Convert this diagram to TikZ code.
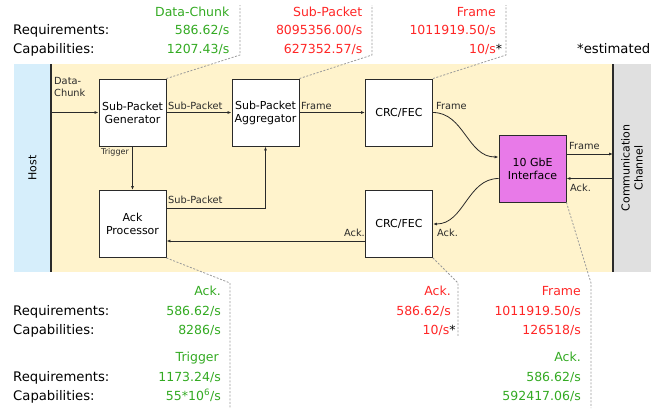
\documentclass[tikz,border=0pt]{standalone}
\usepackage{fontspec}
\setmainfont{DejaVu Sans}
\usetikzlibrary{arrows.meta}

\definecolor{rategreen}{HTML}{33AA22}
\definecolor{ratered}{HTML}{FF2626}
\definecolor{bgyellow}{HTML}{FFF3CC}
\definecolor{hostblue}{HTML}{D6EEFB}
\definecolor{chgray}{HTML}{E0E0E0}
\definecolor{gbeviolet}{HTML}{E87AE8}
\definecolor{linedark}{HTML}{2A2A2A}
\definecolor{calloutgray}{HTML}{9A9A9A}

\begin{document}
\begin{tikzpicture}[x=1pt,y=-1pt,
  block/.style={draw=linedark, line width=0.9pt, fill=white,
    minimum width=67pt, minimum height=67pt, inner sep=0pt,
    align=center, font=\fontsize{11}{13}\selectfont},
  flow/.style={draw=linedark, line width=0.8pt, -{Latex[length=4pt,width=3pt]}},
  elabel/.style={inner sep=0pt, font=\fontsize{9.8}{11.5}\selectfont, text=linedark},
  callout/.style={draw=calloutgray, line width=0.8pt, dash pattern=on 2pt off 1.6pt},
  rowname/.style={anchor=base west, inner sep=0pt, font=\fontsize{13.2}{15}\selectfont},
  rate/.style={anchor=base east, inner sep=0pt, font=\fontsize{12.5}{15}\selectfont},
  good/.style={rate, text=rategreen},
  bad/.style={rate, text=ratered}]

\useasboundingbox (0,0) rectangle (665,408);

% background regions
\fill[bgyellow] (14,64) rectangle (613,272);
\fill[hostblue] (14,64) rectangle (51,272);
\fill[chgray] (613,64) rectangle (651,272);
\draw[linedark, line width=1.3pt] (51,64) -- (51,272);
\draw[linedark, line width=1.3pt] (613,64) -- (613,272);
\node[rotate=90, font=\fontsize{11}{13}\selectfont] (host) at (32.5,168) {Host};
\node[rotate=90, align=center, font=\fontsize{11}{13}\selectfont] (chan) at (632,168) {Communication\\Channel};

% processing blocks
\node[block] (gen)  at (132.5,112.5) {Sub-Packet\\Generator};
\node[block] (agg)  at (265.5,112.5) {Sub-Packet\\Aggregator};
\node[block] (crcT) at (399,112.5) {CRC/FEC};
\node[block] (ackp) at (132.5,224) {Ack\\Processor};
\node[block] (crcB) at (399,224) {CRC/FEC};
\node[block, fill=gbeviolet] (gbe) at (532.5,168.5) {10 GbE\\Interface};

\coordinate (hostR) at (51,112.5);
\coordinate (chF) at (613,154);
\coordinate (chA) at (613,178.5);

% data paths
\draw[flow] (hostR) -- (gen.west);
\draw[flow] (gen.east) -- (agg.west);
\draw[flow] (agg.east) -- (crcT.west);
\draw[flow] (crcT.east) to[out=0,in=180] ([yshift=11.5pt]gbe.west);
\draw[flow] ([yshift=14.5pt]gbe.east) -- (chF);
\draw[flow] (chA) -- ([yshift=-10pt]gbe.east);
\draw[flow] ([yshift=-10pt]gbe.west) to[out=180,in=0] (crcB.east);
\draw[flow] ([yshift=-17pt]crcB.west) -- ([yshift=-17pt]ackp.east);
\draw[flow] (gen.south) -- (ackp.north);
\draw[flow] ([yshift=16pt]ackp.east) -| (agg.south);

% path labels
\node[elabel, anchor=base west, align=left] (lData) at (54,96) {Data-\\Chunk};
\node[elabel, anchor=base west] (lSp1) at (168,109) {Sub-Packet};
\node[elabel, anchor=base west] (lFr1) at (301,109) {Frame};
\node[elabel, anchor=base west] (lFr2) at (436,109) {Frame};
\node[elabel, anchor=base west] (lFr3) at (569,149) {Frame};
\node[elabel, anchor=base west] (lAck1) at (570,191) {Ack.};
\node[elabel, anchor=base west] (lAck2) at (437,236) {Ack.};
\node[elabel, anchor=base east] (lAck3) at (365,236) {Ack.};
\node[elabel, anchor=base west] (lSp2) at (168,203) {Sub-Packet};
\node[elabel, anchor=base west, font=\fontsize{8}{9}\selectfont] (lTrig) at (101,154.5) {Trigger};

% callout leaders
\draw[callout] (gen.north east) -- (240,55) -- (240,5);
\draw[callout] (agg.north east) -- (372,55) -- (372,5);
\draw[callout] (crcT.north east) -- (506,55) -- (506,5);
\draw[callout] (ackp.south east) -- (230,283) -- (230,408);
\draw[callout] (crcB.south east) -- (458,283) -- (458,336);
\draw[callout] (gbe.south east) -- (591,283) -- (591,408);

% rates above the chain
\node[rowname] (rq1) at (13,34.5) {Requirements:};
\node[rowname] (cp1) at (13,53) {Capabilities:};
\node[good] (hDC) at (229.5,16.7) {Data-Chunk};
\node[good] (rDC) at (229.5,34.5) {586.62/s};
\node[good] (cDC) at (229.5,53) {1207.43/s};
\node[bad] (hSP) at (362.5,16.7) {Sub-Packet};
\node[bad] (rSP) at (362.5,34.5) {8095356.00/s};
\node[bad] (cSP) at (362.5,53) {627352.57/s};
\node[bad] (hFR) at (496,16.7) {Frame};
\node[bad] (rFR) at (496,34.5) {1011919.50/s};
\node[bad] (cFR) at (496,53) {10/s\rlap{\color{black}*}};
\node[rowname] (est) at (577,53) {*estimated};

% rates below the chain
\node[rowname] (rq2) at (13,315.7) {Requirements:};
\node[rowname] (cp2) at (13,334.5) {Capabilities:};
\node[rowname] (rq3) at (13,381.5) {Requirements:};
\node[rowname] (cp3) at (13,400.3) {Capabilities:};
\node[good] (hAK) at (221,295.7) {Ack.};
\node[good] (rAK) at (221,315.7) {586.62/s};
\node[good] (cAK) at (221,334.5) {8286/s};
\node[good] (hTR) at (219,361) {Trigger};
\node[good] (rTR) at (221,381.5) {1173.24/s};
\node[good] (cTR) at (221,400.3) {55*10\textsuperscript{6}/s};
\node[bad] (hAK2) at (451,295.7) {Ack.};
\node[bad] (rAK2) at (451,315.7) {586.62/s};
\node[bad] (cAK2) at (449.5,334.5) {10/s\rlap{\color{black}*}};
\node[bad] (hFR2) at (581,295.7) {Frame};
\node[bad] (rFR2) at (581,315.7) {1011919.50/s};
\node[bad] (cFR2) at (581,334.5) {126518/s};
\node[good] (hAK3) at (581,361) {Ack.};
\node[good] (rAK3) at (581,381.5) {586.62/s};
\node[good] (cAK3) at (581,400.3) {592417.06/s};
\end{tikzpicture}
\end{document}
